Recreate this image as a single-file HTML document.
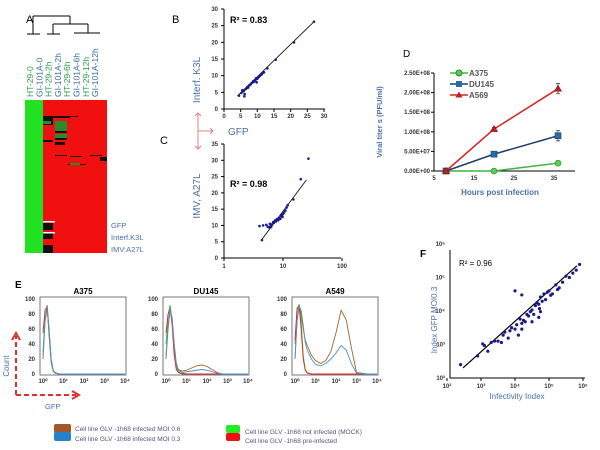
<!DOCTYPE html>
<html><head><meta charset="utf-8"><style>
html,body{margin:0;padding:0;background:#fff}
svg{display:block;font-family:"Liberation Sans",sans-serif}
.tk{font-size:6px;font-weight:bold;fill:#333}
.ttl{fill:#4a70a8}
</style></head><body>
<svg id="fig" width="600" height="450" viewBox="0 0 600 450">
<!-- Panel A -->
<g>
<text x="26" y="23" font-size="11">A</text>
<g stroke="#000" stroke-width="1" fill="none">
<path d="M33 16H70M33 16V34M27 34H40M70 16V24M53 24H88M53 24V34M47 34H60M88 24V33M74 33H100"/>
</g>
<g id="collabels" font-size="8.5"></g>
<rect x="25" y="100" width="18" height="153" fill="#22e022"/>
<rect x="43" y="100" width="64" height="153" fill="#f01010"/>
<g id="heatmarks"></g>
<text x="111" y="228" font-size="7.5" class="ttl">GFP</text>
<text x="111" y="240" font-size="7.5" class="ttl">Interf.K3L</text>
<text x="111" y="252" font-size="7.5" class="ttl">IMV:A27L</text>
</g>
<!-- Panel B/C -->
<text x="172" y="23" font-size="11">B</text>
<text x="160" y="144" font-size="11">C</text>
<g id="pB"></g>
<g id="pC"></g>
<text transform="translate(200,80) rotate(-90)" text-anchor="middle" font-size="10" class="ttl">Interf. K3L</text>
<text transform="translate(200,196) rotate(-90)" text-anchor="middle" font-size="10" class="ttl">IMV, A27L</text>
<g stroke="#e08080" stroke-width="1" fill="none">
<path d="M198 113V149M195 116L198 113L201 116M195 146L198 149L201 146M198 131H213M210 128L213 131L210 134"/>
</g>
<text x="228" y="135" font-size="10" class="ttl">GFP</text>
<!-- Panel D -->
<text x="403" y="57" font-size="10">D</text>
<g id="pD"></g>
<text transform="translate(382,122) rotate(-90)" text-anchor="middle" font-size="7.5" font-weight="bold" class="ttl">Viral titer s  (PFU/ml)</text>
<text x="500" y="195" text-anchor="middle" font-size="8" font-weight="bold" class="ttl">Hours post  infection</text>
<!-- Panel E -->
<text x="15" y="288" font-size="10" font-weight="bold">E</text>
<g id="pE"></g>
<text transform="translate(9,366) rotate(-90)" text-anchor="middle" font-size="8" class="ttl">Count</text>
<g stroke="#e03030" stroke-width="2" stroke-dasharray="5,3" fill="none">
<path d="M16 395V336M16 395H76"/>
</g>
<path d="M12 340L16 333L20 340M72 391L79 395L72 399" stroke="#e03030" stroke-width="2" fill="none"/>
<text x="45" y="409" font-size="7.5" class="ttl">GFP</text>
<g font-size="6.5" fill="#557">
<rect x="54" y="424" width="17" height="9" rx="2" fill="#a0582a"/>
<rect x="54" y="432" width="17" height="9" rx="2" fill="#2a80c8"/>
<text x="75" y="431">Cell line GLV -1h68  infected  MOI 0.6</text>
<text x="75" y="441">Cell line GLV -1h68  infected  MOI 0.3</text>
<rect x="226" y="425" width="14" height="8" rx="2" fill="#22ee22"/>
<rect x="226" y="433" width="14" height="8" rx="2" fill="#ee1111"/>
<text x="245" y="434">Cell line GLV -1h68  not infected  (MOCK)</text>
<text x="245" y="443">Cell line GLV -1h68  pre-infected</text>
</g>
<!-- Panel F -->
<text x="420" y="257" font-size="10" font-weight="bold">F</text>
<g id="pF"></g>
<text transform="translate(437,320) rotate(-90)" text-anchor="middle" font-size="8" class="ttl">Index GFP MOI0.3</text>
<text x="517" y="399" text-anchor="middle" font-size="8" class="ttl">Infectivity Index</text>
</svg>
<script>
const NS="http://www.w3.org/2000/svg";
function mk(p,t,a,txt){const e=document.createElementNS(NS,t);for(const k in a)e.setAttribute(k,a[k]);if(txt!==undefined)e.textContent=txt;p.appendChild(e);return e;}
// ---- Panel A data
const colNames=["HT-29-0","GI-101A-0","HT-29-2h","GI-101A-2h","HT-29-6h","GI-101A-6h","HT-29-12h","GI-101A-12h"];
const heatBlack=[[43,116,10,5],[43,121,10,4],[52,116,18,2],[55,131,12,2],[55,138,12,2],[55,142,10,3],[43,140,10,2],[70,116,8,1],[55,155,12,1],[70,156,12,1],[90,155,12,1],[100,157,7,4],[68,164,18,1],[43,223,10,7],[43,233,10,6],[43,245,10,8]];
const heatGreen=[[55,121,12,10],[55,134,12,4],[70,163,10,2],[43,121,8,3]];
const heatWhite=[[43,221,12,1.5],[43,232,12,1.5]];
const cl=document.getElementById('collabels');
colNames.forEach((n,i)=>{const t=mk(cl,'text',{transform:`translate(${33+i*9.3},97) rotate(-90)`,fill:i%2?'#3a6aa0':'#2a9d4a'},n);

});
const hm=document.getElementById('heatmarks');
[[heatBlack,'#111'],[heatGreen,'#2b8a2b'],[heatWhite,'#fff']].forEach(([arr,c])=>arr.forEach(r=>{const e=mk(hm,'rect',{x:r[0],y:r[1],width:r[2],height:r[3],fill:c});

}));
// ---- Panel B data
const bX=[4.5,5.2,5.8,6.0,6.2,6.5,6.8,7.0,7.3,7.6,8.0,8.3,8.6,9.0,9.2,9.5,9.8,10.0,10.3,10.6,11.0,11.3,11.6,12.0,6.1,5.5,7.2,8.8,10.8,9.6,27.0,21.0,13.0,15.5];
const bY=[4.0,4.8,5.3,5.6,4.5,6.0,6.3,6.6,6.8,7.1,7.4,7.8,8.0,8.2,8.5,8.8,8.0,9.1,9.5,9.8,10.2,10.4,10.8,11.0,3.8,5.6,6.4,8.4,10.0,9.2,26.2,20.0,12.2,14.8];
const bTicks=[0,5,10,15,20,25,30];
const bLine=[4,27];
(function(){const g=document.getElementById('pB');const X=v=>224+v*(100/30),Y=v=>109-v*(100/30);
mk(g,'path',{d:`M224 9V109H325`,stroke:'#000',fill:'none','stroke-width':1});
bTicks.forEach(t=>{mk(g,'text',{x:X(t),y:118,class:'tk','text-anchor':'middle'},t);mk(g,'text',{x:218,y:Y(t)+2,class:'tk','text-anchor':'end'},t);mk(g,'line',{x1:221,x2:224,y1:Y(t),y2:Y(t),stroke:'#000'});mk(g,'line',{x1:X(t),x2:X(t),y1:109,y2:112,stroke:'#000'});});
mk(g,'line',{x1:X(bLine[0]),y1:Y(bLine[0]*0.97),x2:X(bLine[1]),y2:Y(bLine[1]*0.97),stroke:'#000','stroke-width':0.8});
bX.forEach((x,i)=>{const c=mk(g,'circle',{cx:X(x),cy:Y(bY[i]),r:1.3,fill:'#1a1a8a'});

});
mk(g,'text',{x:230,y:23,'font-size':9,'font-weight':'bold'},'R² = 0.83');})();
// ---- Panel C data
const cX=[4.0,4.6,5.2,5.5,5.8,6.0,6.3,6.5,6.8,7.0,7.3,7.6,8.0,8.3,8.6,9.0,9.3,9.6,10.0,10.5,11.0,11.5,12.0,6.2,7.8,9.8,20,27,4.4,15];
const cY=[9.8,10.0,10.2,9.6,9.4,10.5,9.5,10.3,11.0,10.8,11.5,11.2,12.0,11.6,12.3,12.0,12.8,13.2,13.5,14.0,14.6,15.5,16.2,9.8,11.8,12.6,24.2,30.5,5.5,18.0];
const cYTicks=[0,5,10,15,20,25,30,35];const cXTicks=[1,10,100];
(function(){const g=document.getElementById('pC');const X=v=>224+Math.log10(v)*59,Y=v=>258-v*(114/35);
mk(g,'path',{d:`M224 144V258H341`,stroke:'#000',fill:'none'});
cYTicks.forEach(t=>{mk(g,'text',{x:218,y:Y(t)+2,class:'tk','text-anchor':'end'},t);mk(g,'line',{x1:221,x2:224,y1:Y(t),y2:Y(t),stroke:'#000'});});
cXTicks.forEach(t=>{mk(g,'text',{x:X(t),y:268,class:'tk','text-anchor':'middle'},t);mk(g,'line',{x1:X(t),x2:X(t),y1:258,y2:261,stroke:'#000'});});
mk(g,'line',{x1:X(4.3),y1:Y(5.5),x2:X(25),y2:Y(24),stroke:'#000','stroke-width':0.8});
cX.forEach((x,i)=>{const c=mk(g,'circle',{cx:X(x),cy:Y(cY[i]),r:1.3,fill:'#1a1a8a'});

});
mk(g,'text',{x:230,y:187,'font-size':9,'font-weight':'bold'},'R² = 0.98');})();
// ---- Panel D data
const dHours=[8,20,36];
const dA375=[0,0,2.0e7];
const dDU145=[0,4.3e7,9.0e7];
const dA569=[0,1.07e8,2.1e8];
const dErrDU=[0,3e6,1.3e7];const dErrA569=[0,4e6,1.3e7];
const dYTicks=["0.00E+00","5.00E+07","1.00E+08","1.50E+08","2.00E+08","2.50E+08"];const dXTicks=[5,15,25,35];
(function(){const g=document.getElementById('pD');const X=v=>434+(v-5)*4.0,Y=v=>171-v/2.5e8*98;
mk(g,'path',{d:`M434 73V171H575`,stroke:'#000',fill:'none'});
dYTicks.forEach((t,i)=>{mk(g,'text',{x:430,y:Y(i*5e7)+2,class:'tk','text-anchor':'end'},t);mk(g,'line',{x1:431,x2:434,y1:Y(i*5e7),y2:Y(i*5e7),stroke:'#000'});});
dXTicks.forEach(t=>mk(g,'text',{x:X(t),y:180,class:'tk','text-anchor':'middle'},t));
const ser=[[dA375,'#3cb83c','circle',null,'A375'],[dDU145,'#1f3e6a','square',dErrDU,'DU145'],[dA569,'#d62020','tri',dErrA569,'A569']];
ser.forEach((s,si)=>{const [vals,col,shape,err,name]=s;
mk(g,'polyline',{points:vals.map((v,i)=>X(dHours[i])+','+Y(v)).join(' '),fill:'none',stroke:col,'stroke-width':1.5});
vals.forEach((v,i)=>{if(err&&err[i])mk(g,'path',{d:`M${X(dHours[i])} ${Y(v-err[i])}V${Y(v+err[i])}M${X(dHours[i])-2} ${Y(v-err[i])}h4M${X(dHours[i])-2} ${Y(v+err[i])}h4`,stroke:'#444','stroke-width':0.8});
const cx=X(dHours[i]),cy=Y(v);let m;
if(shape==='circle')m=mk(g,'circle',{cx,cy,r:3,fill:'#5acc5a',stroke:'#2a8a2a','stroke-width':0.6});
else if(shape==='square')m=mk(g,'rect',{x:cx-3,y:cy-3,width:6,height:6,fill:'#2a6aaa',stroke:'#1a3a6a','stroke-width':0.6});
else m=mk(g,'path',{d:`M${cx} ${cy-3.5}L${cx+3.5} ${cy+2.5}L${cx-3.5} ${cy+2.5}Z`,fill:'#c02020',stroke:'#801010','stroke-width':0.6});

});
const ly=73+si*11;mk(g,'line',{x1:450,x2:468,y1:ly,y2:ly,stroke:col,'stroke-width':1.5});
if(shape==='circle')mk(g,'circle',{cx:459,cy:ly,r:3,fill:'#5acc5a',stroke:'#2a8a2a'});else if(shape==='square')mk(g,'rect',{x:456,y:ly-3,width:6,height:6,fill:'#2a6aaa'});else mk(g,'path',{d:`M459 ${ly-3.5}L462.5 ${ly+2.5}L455.5 ${ly+2.5}Z`,fill:'#c02020'});
const lt=mk(g,'text',{x:469,y:ly+3,'font-size':8,'font-weight':'bold',fill:'#555'},name);

});})();
// ---- Panel E data
const eLogX=[0,0.1,0.2,0.3,0.4,0.5,0.6,0.8,1,1.25,1.5,1.75,2,2.25,2.5,2.75,3,3.5,4];
const eTitles=["A375","DU145","A549"];
const eGreen=[[30,75,92,60,20,5,2,0,0,0,0,0,0,0,0,0,0,0,0],[40,78,92,70,30,8,3,1,0,0,0,0,0,0,0,0,0,0,0],[40,85,93,70,25,6,2,0,0,0,0,0,0,0,0,0,0,0,0]];
const eRed=[[55,85,90,50,15,4,1,0,0,0,0,0,0,0,0,0,0,0,0],[55,80,88,65,25,6,2,0,0,0,0,0,0,0,0,0,0,0,0],[45,88,90,60,20,5,1,0,0,0,0,0,0,0,0,0,0,0,0]];
const eBrown=[[20,70,88,55,18,4,1,0,0,0,0,0,0,0,0,0,0,0,0],[20,60,85,75,40,15,6,4,5,8,11,12,10,6,2,0,0,0,0],[20,70,92,80,60,45,38,25,18,14,18,30,55,85,72,35,2,0,0]];
const eBlue=[[25,72,90,55,18,4,1,0,0,0,0,0,0,0,0,0,0,0,0],[25,65,88,72,38,12,5,2,3,4,5,6,5,3,1,0,0,0,0],[20,72,90,85,65,42,32,20,13,11,14,20,28,38,32,14,1,0,0]];
const eBoxX=[40,163,292];const eCols=['#22cc22','#ee2222','#a0662a','#4a90d0'];
eTitles.forEach((ttl,p)=>{const g=document.getElementById('pE');const x0=eBoxX[p]+3,X=v=>x0+v*20.5,Y=v=>374-v*0.75;
const bx=mk(g,'rect',{x:eBoxX[p],y:297,width:86,height:78,fill:'none',stroke:'#555','stroke-width':0.8});


mk(g,'text',{x:eBoxX[p]+43,y:294,'text-anchor':'middle','font-size':8,'font-weight':'bold'},ttl);
[0,20,40,60,80,100].forEach(t=>mk(g,'text',{x:eBoxX[p]-5,y:Y(t)+2,class:'tk','text-anchor':'end'},t));
[0,1,2,3,4].forEach(d=>mk(g,'text',{x:X(d),y:383,class:'tk','text-anchor':'middle'},'10'+['⁰','¹','²','³','⁴'][d]));
[eGreen,eRed,eBrown,eBlue].forEach((s,si)=>{const l=mk(g,'polyline',{points:s[p].map((v,i)=>X(eLogX[i])+','+Y(v)).join(' '),fill:'none',stroke:eCols[si],'stroke-width':0.9});

});});
// ---- Panel F data (log10 values)
const fX=[2.4,2.9,3.05,3.1,3.2,3.3,3.4,3.5,3.65,3.7,3.8,3.85,3.9,4.0,4.05,4.1,4.15,4.2,4.25,4.3,4.35,4.4,4.45,4.5,4.55,4.6,4.65,4.7,4.72,4.75,4.8,4.85,4.9,4.95,5.0,5.05,5.1,5.2,5.3,5.4,5.5,5.6,5.7,5.8,5.9,4.0,4.5,4.75,4.2,4.7,3.6,5.25,4.2];
const fY=[2.4,2.66,3.02,2.97,2.80,3.06,3.10,3.10,3.28,3.37,3.19,3.41,3.50,3.46,3.59,3.28,3.76,3.63,3.72,3.68,3.90,3.85,3.98,4.03,3.90,4.16,4.25,4.20,4.07,4.42,4.29,4.51,4.34,4.56,4.60,4.47,4.51,4.78,4.69,4.86,5.04,5.00,5.13,5.22,5.39,4.60,3.68,3.98,3.46,3.81,3.06,4.64,4.48];
const fLineX=[2.47,5.82];
const fLineY=[2.30,5.35];
(function(){const g=document.getElementById('pF');const X=v=>447+(v-2)*34,Y=v=>378-(v-2)*33.5;
mk(g,'path',{d:`M450 250V378H585`,stroke:'#000',fill:'none'});
[2,3,4,5,6].forEach(d=>{mk(g,'text',{x:X(d),y:388,class:'tk','text-anchor':'middle'},'10'+['²','³','⁴','⁵','⁶'][d-2]);mk(g,'line',{x1:X(d),x2:X(d),y1:378,y2:381,stroke:'#000'});
mk(g,'text',{x:445,y:Y(d)+2,class:'tk','text-anchor':'end'},'10'+['²','³','⁴','⁵','⁶'][d-2]);});
const ln=mk(g,'line',{x1:X(fLineX[0]),y1:Y(fLineY[0]),x2:X(fLineX[1]),y2:Y(fLineY[1]),stroke:'#000','stroke-width':1.2});


fX.forEach((x,i)=>{const c=mk(g,'circle',{cx:X(x),cy:Y(fY[i]),r:1.6,fill:'#1a1a8a'});

});
mk(g,'text',{x:459,y:266,'font-size':8},'R² = 0.96');})();
</script>
</body></html>
